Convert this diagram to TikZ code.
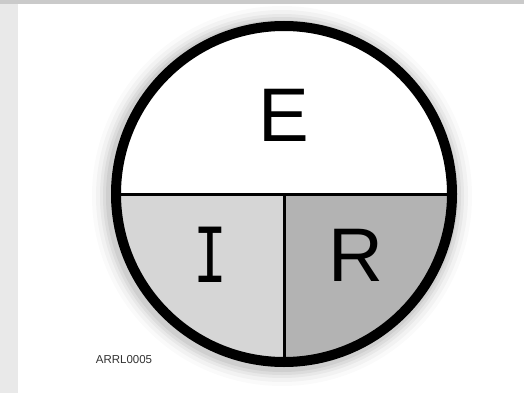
\documentclass[tikz,border=0pt]{standalone}
\usepackage{fontspec}
\setmainfont{Liberation Sans}
\newfontfamily\monofam{DejaVu Sans Mono}
\definecolor{bggray}{HTML}{DADADA}
\definecolor{topgray}{HTML}{CACACA}
\definecolor{lightfill}{HTML}{D6D6D6}
\definecolor{darkfill}{HTML}{B3B3B3}
\definecolor{labelgray}{HTML}{333333}
\begin{document}
\begin{tikzpicture}[x=1pt,y=-1pt,
  bigletter/.style={font=\fontsize{76}{76}\selectfont, inner sep=0pt, anchor=center},
  ring/.style={line width=10pt, draw=black},
  divider/.style={line width=3pt, draw=black}]
\useasboundingbox (0,0) rectangle (524,393);
\fill[topgray] (0,0) rectangle (524,393);
\fill[bggray!60!white] (0,4) rectangle (18,393);
\fill[white] (18,4) rectangle (524,393);
% soft shadow
\foreach \r/\o in {190/0.02,186/0.03,182/0.04,179/0.05,176/0.06}{
  \fill[black,opacity=\o] (282,196) circle (\r);
}
\coordinate (c) at (284,194);
\fill[white] (c) circle (168);
\begin{scope}
  \clip (c) circle (168);
  \fill[lightfill] (100,194) rectangle (284,380);
  \fill[darkfill] (284,194) rectangle (470,380);
\end{scope}
\draw[divider] (116,194) -- (452,194);
\draw[divider] (284,194) -- (284,362);
\draw[ring] (c) circle (168);
\node[bigletter] (E) at (284,115) {E};
\node[bigletter] (I) at (210,255) {\scalebox{0.74}[1]{\monofam I}};
\node[bigletter] (R) at (356,255) {R};
\node[font=\fontsize{11.5}{12}\selectfont, text=labelgray, inner sep=0pt] (lab) at (124,360) {ARRL0005};
\end{tikzpicture}
\end{document}
